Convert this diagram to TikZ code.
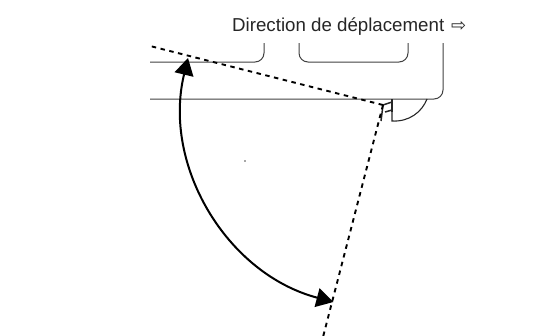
\documentclass[tikz,border=0pt]{standalone}
\usepackage{fontspec}
\setmainfont{Liberation Sans}
\newfontfamily\symfont{DejaVu Sans}
\usetikzlibrary{arrows.meta}
\tikzset{
  wall/.style={draw=black!75,line width=1pt,rounded corners=9pt},
  door/.style={draw=black!85,line width=1.1pt},
  sight/.style={draw=black,line width=1.9pt,dash pattern=on 4.5pt off 4.5pt},
  sweep/.style={draw=black,line width=2pt,{Triangle[length=17pt,width=19pt]}-{Triangle[length=17pt,width=19pt]}}
}
\begin{document}
\begin{tikzpicture}[x=1pt,y=-1pt]
\useasboundingbox (0,0) rectangle (553,335);
\coordinate (apex) at (383,105);
\coordinate (farA) at (150,46);
\coordinate (farB) at (323,337);
\draw[wall] (150,62) -| (264,43);
\draw[wall] (299,43) |- (408,62) -- (408,43);
\draw[wall] (150,99) -| (443,43);
\draw[door] (392,99) -- (392,121) .. controls (409,122) and (422,112) .. (427,99);
\draw[door,line width=2.4pt] (392,99) -- (392,112);
\draw[door,line width=1.5pt] (383,105) -- (392,102) (385,112) -- (392,110) (383,105) -- (381,121);
\draw[sight] (apex) -- (farA);
\draw[sight] (apex) -- (farB);
\draw[sweep] (188,58) arc[start angle=193.6,end angle=104.8,radius=203];
\fill[black!70] (245,161) circle[radius=0.9];
\node[anchor=base west,inner sep=0pt,text=black!85,font=\fontsize{18.7}{20}\selectfont] (label) at (232,31) {Direction de déplacement};
\node[anchor=base west,inner sep=0pt,text=black!85,font=\symfont\fontsize{18}{20}\selectfont] (arrowglyph) at (451,31) {⇨};
\end{tikzpicture}
\end{document}
